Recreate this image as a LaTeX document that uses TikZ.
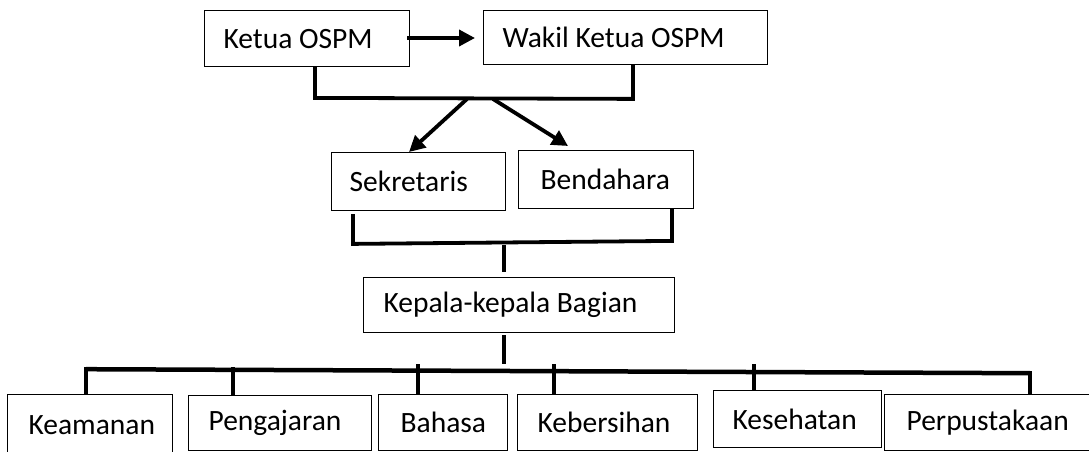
\documentclass[tikz,border=0pt]{standalone}
\usepackage{fontspec}
\setmainfont{Carlito}
\usetikzlibrary{arrows.meta}
\tikzset{
  box/.style={draw, line width=1.2pt, anchor=north west, align=flush left, inner ysep=0pt,
    font=\fontsize{29.5}{32}\selectfont},
  conn/.style={line width=3.8pt, line cap=butt},
  arr/.style={line width=3.8pt, -{Triangle[length=16pt,width=16pt]}}
}
\begin{document}
\begin{tikzpicture}[x=1pt,y=-1pt]
\useasboundingbox (0,0) rectangle (1089,452);
% top row
\node[box, minimum height=56pt, inner xsep=19pt, text width=167pt] (ketua) at (204,10) {Ketua OSPM};
\node[box, minimum height=54pt, inner xsep=19pt, text width=246pt] (wakil) at (483,10) {Wakil Ketua OSPM};
% second row
\node[box, minimum height=58pt, inner xsep=18pt, text width=138pt] (sekr) at (331,152) {Sekretaris};
\node[box, minimum height=58pt, inner xsep=22pt, text width=131pt] (bend) at (518,150) {Bendahara};
% third
\node[box, minimum height=55pt, inner xsep=20pt, text width=271pt] (kepala) at (363,277) {Kepala-kepala Bagian};
% bottom row
\node[box, minimum height=62pt, inner xsep=21pt, text width=123pt] (keam) at (7,394) {Keamanan};
\node[box, minimum height=55pt, inner xsep=20pt, text width=143pt] (peng) at (188,395) {Pengajaran};
\node[box, minimum height=56pt, inner xsep=22pt, text width=85pt] (bah) at (378,394) {Bahasa};
\node[box, minimum height=56pt, inner xsep=20pt, text width=140pt] (keb) at (517,394) {Kebersihan};
\node[box, minimum height=57pt, inner xsep=19pt, text width=130pt] (kes) at (713,390) {Kesehatan};
\node[box, minimum height=56pt, inner xsep=22pt, text width=168pt] (perp) at (884,394) {Perpustakaan};
% arrow top
\coordinate (a0) at (407,38);
\coordinate (a1) at (475,38);
\draw[arr] (a0) -- (a1);
% bracket 1
\coordinate (b1l) at (315,96);
\coordinate (b1r) at (633,97);
\draw[conn] (ketua.south -| b1l) -- ([yshift=-1.9pt]b1l) -- ([yshift=-1.9pt]b1r) -- (wakil.south -| b1r);
% arrows down
\coordinate (s1) at (467,99);
\coordinate (s2) at (493,99);
\coordinate (t1) at (409,152);
\coordinate (t2) at (568,146);
\draw[arr] (s1) -- (t1);
\draw[arr] (s2) -- (t2);
% bracket 2
\coordinate (b2ls) at (353,214);
\coordinate (b2l) at (353,242);
\coordinate (b2r) at (672,239);
\draw[conn] (b2ls) -- ([yshift=-1.9pt]b2l) -- ([yshift=-1.9pt]b2r) -- (bend.south -| b2r);
% verticals around kepala
\coordinate (v1a) at (504,245);
\coordinate (v1b) at (504,272);
\draw[conn] (v1a) -- (v1b);
\coordinate (v2a) at (504,335);
\coordinate (v2b) at (504,364);
\draw[conn] (v2a) -- (v2b);
% bottom bar
\coordinate (h1) at (86,367);
\coordinate (h2) at (1030,371);
\coordinate (c2) at (233,367);
\coordinate (c3) at (418,364);
\coordinate (c4) at (554,364);
\coordinate (c5) at (754,364);
\draw[line width=4.5pt, line cap=butt] ([yshift=-2.2pt]h1) -- ([yshift=-2.2pt]h2);
\draw[conn] ([yshift=-0.2pt]h1) -- (keam.north -| h1);
\draw[conn] (c2) -- (peng.north -| c2);
\draw[conn] (c3) -- (bah.north -| c3);
\draw[conn] (c4) -- (keb.north -| c4);
\draw[conn] (c5) -- (kes.north -| c5);
\draw[conn] ([yshift=-0.2pt]h2) -- (perp.north -| h2);
\end{tikzpicture}
\end{document}
